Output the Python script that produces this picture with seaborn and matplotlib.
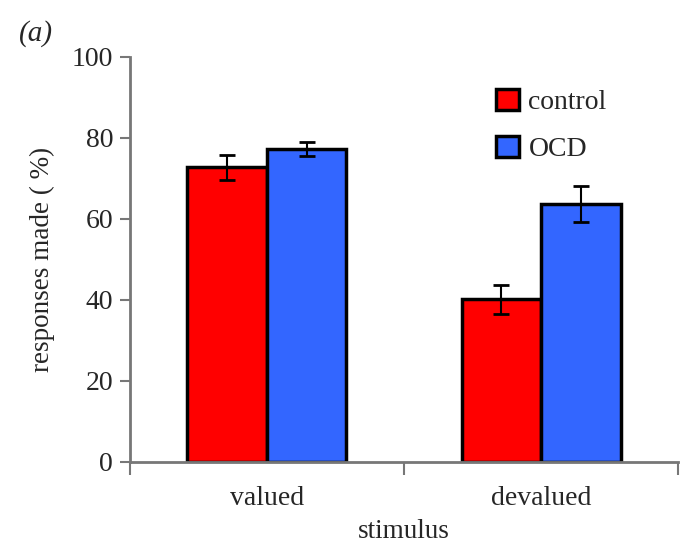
import matplotlib
matplotlib.use("Agg")
import matplotlib.pyplot as plt
import seaborn as sns
import pandas as pd
import numpy as np

stimulus = ["valued", "devalued"]
groups = ["control", "OCD"]
control_vals = [72.7, 40.1]
ocd_vals = [77.3, 63.7]
control_err = [3.0, 3.6]
ocd_err = [1.7, 4.4]
colors = ["#ff0000", "#3366ff"]

df = pd.DataFrame({
    "stimulus": stimulus * 2,
    "group": [groups[0]] * 2 + [groups[1]] * 2,
    "value": control_vals + ocd_vals,
    "err": control_err + ocd_err,
})

sns.set_theme(style="ticks")
plt.rcParams["font.family"] = ["Liberation Serif", "DejaVu Serif"]

fig = plt.figure(figsize=(6.83, 5.46), dpi=100)
ax = fig.add_axes([0.190, 0.154, 0.803, 0.742])

sns.barplot(data=df, x="stimulus", y="value", hue="group", order=stimulus,
            hue_order=groups, palette=colors, width=0.58, errorbar=None,
            edgecolor="black", linewidth=2.5, saturation=1, ax=ax)

# error bars at bar centers
for container, g in zip(ax.containers, groups):
    sub = df[df.group == g].set_index("stimulus").loc[stimulus]
    xs = [p.get_x() + p.get_width() / 2 for p in container.patches]
    ax.errorbar(xs, sub["value"].values, yerr=sub["err"].values, fmt="none",
                ecolor="black", elinewidth=1.5, capsize=6, capthick=2, zorder=5)

ax.set_xlim(-0.5, 1.5)
ax.set_ylim(0, 100)
ax.set_yticks([0, 20, 40, 60, 80, 100])
ax.set_xticks([-0.5, 0.5, 1.5], minor=False)
ax.set_xticklabels(["", "", ""])
ax.set_xticks([0, 1], minor=True)
ax.set_xticklabels(stimulus, minor=True)
ax.tick_params(axis="x", which="minor", length=0, labelsize=20, pad=17)
ax.tick_params(axis="x", which="major", length=9, width=1.5, color="#777777")
ax.tick_params(axis="y", length=7, width=1.5, color="#777777", labelsize=20, pad=5)

for s in ["top", "right"]:
    ax.spines[s].set_visible(False)
for s in ["left", "bottom"]:
    ax.spines[s].set_color("#777777")
    ax.spines[s].set_linewidth(2)

ax.set_xlabel("stimulus", fontsize=19.5, labelpad=6)
ax.set_ylabel("responses made ( %)", fontsize=19.5, labelpad=12)

leg = ax.legend(loc="upper left", bbox_to_anchor=(0.623, 0.983), frameon=False,
                fontsize=20, handlelength=0.8, handleheight=0.8,
                handletextpad=0.35, labelspacing=0.75)

fig.text(0.028, 0.925, "(a)", fontsize=21, style="italic")

fig.savefig("out.png", dpi=100)
